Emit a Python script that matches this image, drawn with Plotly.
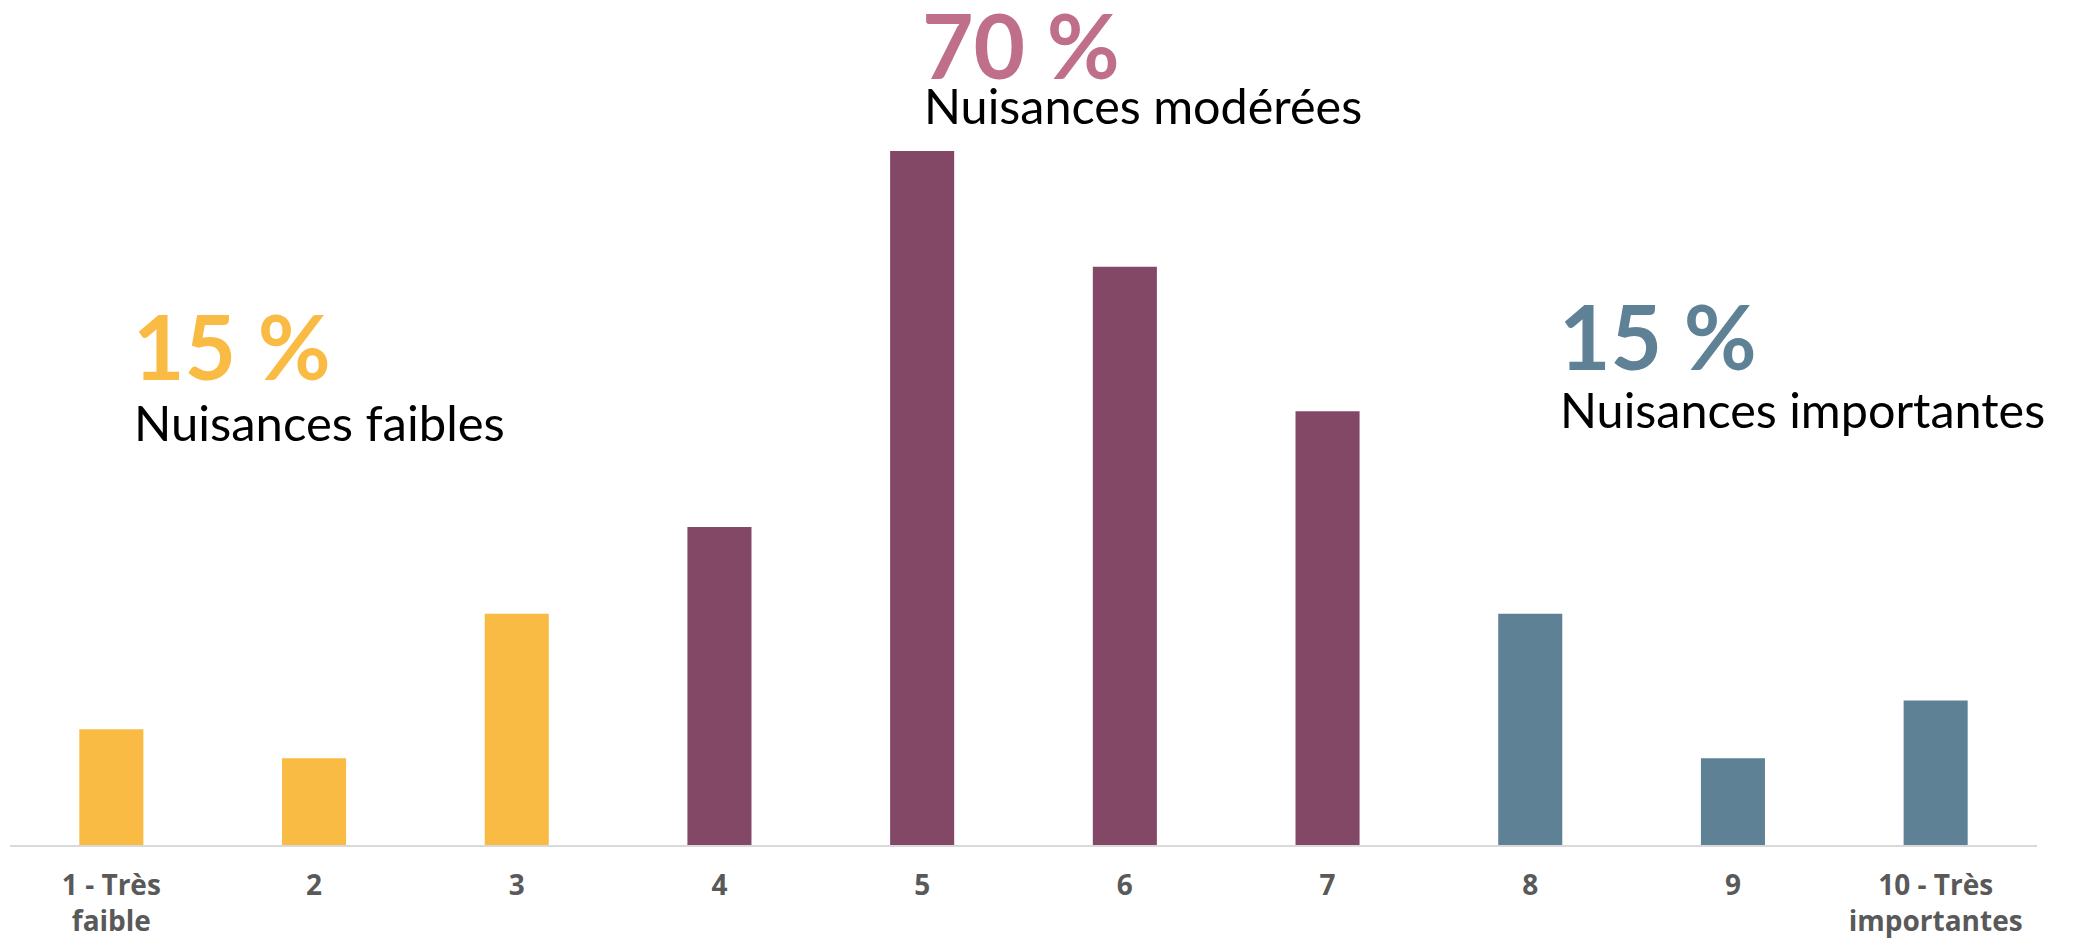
import plotly.graph_objects as go

categories = ["1 - Très<br>faible", "2", "3", "4", "5", "6", "7", "8", "9", "10 - Très<br>importantes"]
values = [4, 3, 8, 11, 24, 20, 15, 8, 3, 5]
groups = ["faible", "faible", "faible", "moderee", "moderee", "moderee", "moderee", "importante", "importante", "importante"]

group_colors = {"faible": "#F9BB43", "moderee": "#834865", "importante": "#5F8196"}
bar_colors = [group_colors[g] for g in groups]

group_pcts = ["15 %", "70 %", "15 %"]
group_labels = ["Nuisances faibles", "Nuisances modérées", "Nuisances importantes"]
pct_colors = ["#F9BB43", "#BF6F89", "#5F8196"]

# page shows the figure offset by the default 8px body margin
OFF = 8
W, H = 2073 - OFF, 940 - OFF
# plot area in page pixels: x 10..2037, y 151..845
L, T = 10 - OFF, 151 - OFF
R = W - (2037 - OFF)
B = H - (845 - OFF)
pw, ph = W - L - R, H - T - B

def px(x):
    return (x - 10) / pw

def py(y):
    return (845 - y) / ph

fig = go.Figure()
fig.add_trace(go.Bar(
    x=categories, y=values, marker_color=bar_colors, marker_line_width=0,
    width=0.316, hoverinfo="skip",
))

# annotation anchors (page pixel positions of text blocks)
pct_pos = [(131, 345), (920, 44), (1557, 335)]
lab_pos = [(132, 422), (922, 105), (1558, 409)]
lab_sizes = [49, 48.5, 48.5]

for i in range(3):
    fig.add_annotation(
        text="<b>" + group_pcts[i] + "</b>", xref="paper", yref="paper",
        x=px(pct_pos[i][0]), y=py(pct_pos[i][1]), xanchor="left", yanchor="middle",
        showarrow=False, font=dict(family="Lato", size=89, color=pct_colors[i]),
    )
    fig.add_annotation(
        text=group_labels[i], xref="paper", yref="paper",
        x=px(lab_pos[i][0]), y=py(lab_pos[i][1]), xanchor="left", yanchor="middle",
        showarrow=False, font=dict(family="Lato", size=lab_sizes[i], color="#000000"),
    )

fig.update_layout(
    width=W, height=H, margin=dict(l=L, r=R, t=T, b=B, autoexpand=False),
    paper_bgcolor="white", plot_bgcolor="white", showlegend=False,
    xaxis=dict(
        showline=True, linecolor="#D9D9D9", linewidth=2, showgrid=False,
        tickfont=dict(family="Open Sans", size=28, color="#595959", weight="bold"),
        ticks="", ticklabelstandoff=14, fixedrange=True, automargin=False,
    ),
    yaxis=dict(visible=False, range=[0, 24], showgrid=False, fixedrange=True, automargin=False),
)

fig.write_html("out.html", config={"displayModeBar": False})
